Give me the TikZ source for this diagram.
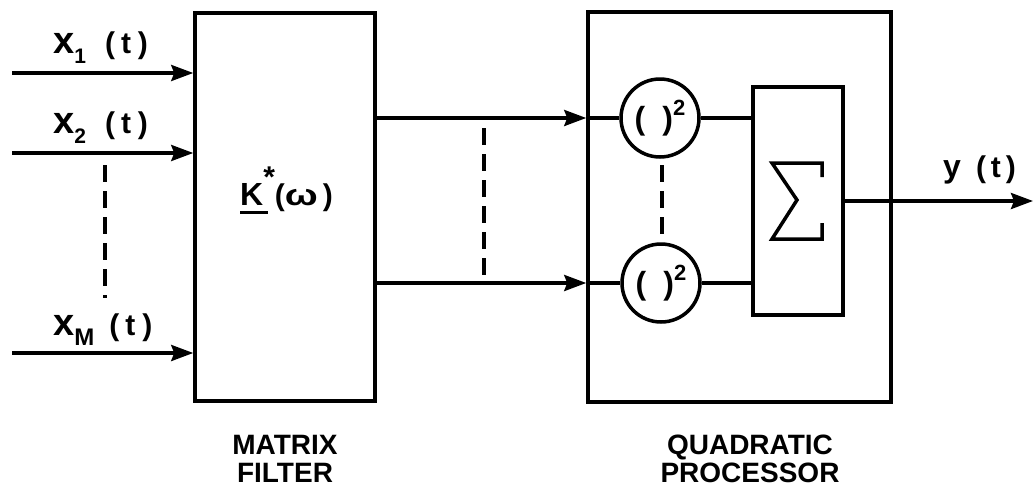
\documentclass[tikz,border=0pt]{standalone}
\usepackage{fontspec}
\setmainfont{Liberation Sans}
\usepackage{graphicx}
\usetikzlibrary{arrows.meta}
\newcommand{\xsym}{{\fontsize{38}{38}\selectfont x}}
\newcommand{\subs}[2]{\raisebox{-10pt}{\fontsize{#1}{#1}\selectfont #2}}
\begin{document}
\begin{tikzpicture}[x=1pt,y=-1pt,
  box/.style={draw,rectangle,line width=3.5pt,inner sep=0pt},
  sq/.style={draw,circle,line width=3.5pt,minimum size=78pt,inner sep=0pt,font=\fontsize{32}{32}\selectfont\bfseries},
  flow/.style={-{Stealth[length=22pt,width=16pt,inset=3pt]},line width=3.5pt},
  wire/.style={line width=3.5pt},
  dots/.style={line width=4pt,dash pattern=on 17pt off 9pt},
  lbl/.style={inner sep=0pt,anchor=base west,font=\fontsize{30}{30}\selectfont\bfseries},
  capt/.style={inner sep=0pt,anchor=north,align=center,font=\fontsize{28}{28}\selectfont\bfseries}
]
\useasboundingbox (0,0) rectangle (1035,491);

% blocks
\node[box,minimum width=180pt,minimum height=388pt] (filter) at (285,207) {};
\node[box,minimum width=303pt,minimum height=390pt] (qp) at (739.5,207) {};
\node[box,minimum width=90pt,minimum height=228pt] (sum) at (798,201) {};
\node[sq] (c1) at (660,118) {(\hspace{17pt})\raisebox{14pt}{\fontsize{22}{22}\selectfont 2}};
\node[sq] (c2) at (661,283) {(\hspace{17pt})\raisebox{14pt}{\fontsize{22}{22}\selectfont 2}};

% labels
\node[lbl] (kf) at (240,205) {{\fontsize{32}{32}\selectfont\rlap{\rule[-9pt]{28pt}{3pt}}K}\raisebox{18pt}{\fontsize{30}{30}\selectfont *}(\scalebox{1.3}[1]{ω}\hspace{5pt})};
\node[lbl] (lx1) at (53,53) {\xsym\subs{21}{1}\hspace{19pt}(\hspace{6pt}t\hspace{7pt})};
\node[lbl] (lx2) at (53,133) {\xsym\subs{21}{2}\hspace{19pt}(\hspace{6pt}t\hspace{7pt})};
\node[lbl] (lxm) at (53,335) {\xsym\subs{24}{M}\hspace{15pt}(\hspace{6pt}t\hspace{7pt})};
\node[lbl] (ly) at (943,177) {{\fontsize{32}{32}\selectfont y}\hspace{15pt}(\hspace{5pt}t\hspace{5pt})};
\node[capt] (cf) at (285,435) {MATRIX\\FILTER};
\node[capt] (cq) at (750,435) {QUADRATIC\\PROCESSOR};

% inputs
\coordinate (i1) at (12,73);
\coordinate (i2) at (12,153);
\coordinate (im) at (12,353);
\draw[flow] (i1) -- (i1 -| filter.west);
\draw[flow] (i2) -- (i2 -| filter.west);
\draw[flow] (im) -- (im -| filter.west);
\coordinate (d1a) at (105,165);
\coordinate (d1b) at (105,298);
\draw[dots] (d1a) -- (d1b);

% filter outputs
\coordinate (o1) at (375,118);
\coordinate (o2) at (375,283);
\draw[flow] (o1) -- (o1 -| qp.west);
\draw[flow] (o2) -- (o2 -| qp.west);
\draw[wire] (o1 -| qp.west) -- (c1.west);
\draw[wire] (o2 -| qp.west) -- (c2.west);
\coordinate (d2a) at (484,128);
\coordinate (d2b) at (484,277);
\draw[dots] (d2a) -- (d2b);
\coordinate (d3a) at (662,165);
\coordinate (d3b) at (662,238);
\draw[dots] (d3a) -- (d3b);

% squarers to sum
\draw[wire] (c1.east) -- (c1.east -| sum.west);
\draw[wire] (c2.east) -- (c2.east -| sum.west);

% sigma
\draw[line width=3.5pt,line join=miter,shift={(sum.center)}]
  (24,-24) -- (24,-38) -- (-26,-38) -- (-1,-1) -- (-26,38) -- (24,38) -- (24,22);

% output
\coordinate (yo) at (1033,201);
\draw[flow] (sum.east) -- (yo);
\end{tikzpicture}
\end{document}
